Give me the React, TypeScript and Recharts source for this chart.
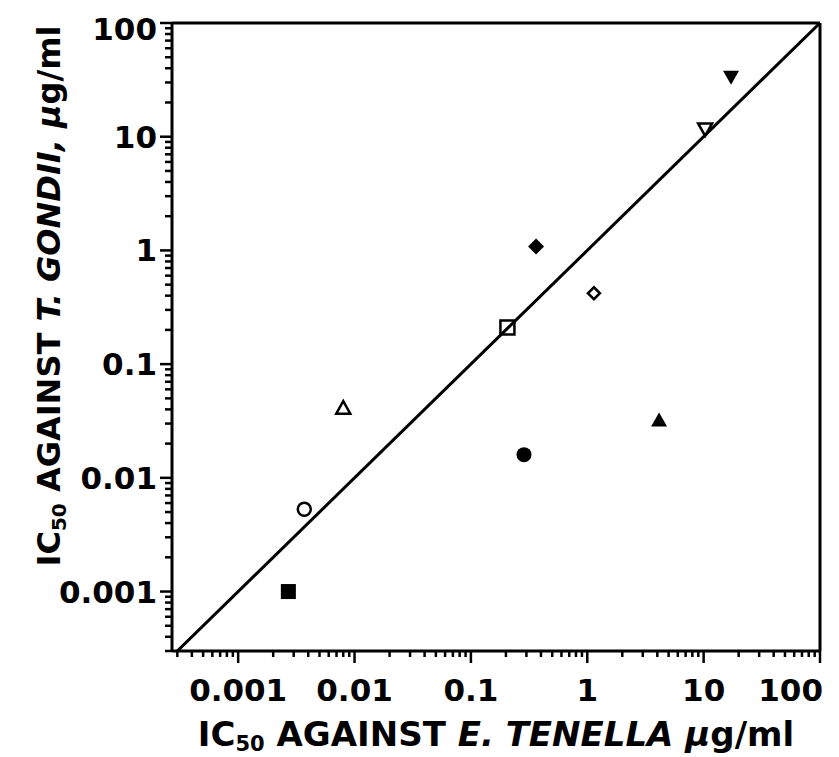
import React from 'react';
import { ScatterChart, Scatter, XAxis, YAxis, ReferenceLine, Label } from 'recharts';

const FONT = '"DejaVu Sans", "Liberation Sans", sans-serif';

// Axis decades and labels
const decadeTicks = [0.001, 0.01, 0.1, 1, 10, 100];
const decadeLabels = ['0.001', '0.01', '0.1', '1', '10', '100'];
const minorDecades = [0.0001, 0.001, 0.01, 0.1, 1, 10];
const minorMultipliers = [2, 3, 4, 5, 6, 7, 8, 9];

const xDomain = [0.00027, 100];
const yDomain = [0.0003, 100];

// Compounds (marker symbol), IC50 vs E. tenella (x) and T. gondii (y), µg/ml
const compoundMarkers = [
  'filledDown',
  'openDown',
  'filledDiamond',
  'openDiamond',
  'openSquare',
  'openUp',
  'filledUp',
  'filledCircle',
  'openCircle',
  'filledSquare',
];
const eTenellaIC50 = [17.2, 10.3, 0.363, 1.14, 0.206, 0.008, 4.14, 0.286, 0.0037, 0.0027];
const tGondiiIC50 = [33.7, 11.7, 1.08, 0.42, 0.21, 0.041, 0.032, 0.016, 0.0053, 0.001];

// Line of identity (y = x)
const identityX = [0.00027, 100];
const identityY = [0.00027, 100];

const points = compoundMarkers.map((kind, i) => ({
  x: eTenellaIC50[i],
  y: tGondiiIC50[i],
  kind,
}));

const minorTicks: number[] = [];
minorDecades.forEach((d) =>
  minorMultipliers.forEach((m) => {
    const v = +(d * m).toPrecision(6);
    if (v >= xDomain[0] && v <= xDomain[1]) minorTicks.push(v);
  })
);
const xTicks = [...minorTicks, ...decadeTicks].sort((a, b) => a - b);
const yTicks = [...minorTicks.filter((v) => v >= yDomain[0]), ...decadeTicks].sort((a, b) => a - b);

const labelIndex = (v: number) =>
  decadeTicks.findIndex((d) => Math.abs(Math.log10(d) - Math.log10(v)) < 1e-6);

const XTick = (props: any) => {
  const { x, y, payload } = props;
  const idx = labelIndex(payload.value);
  const label = idx >= 0 ? decadeLabels[idx] : null;
  const last = idx === decadeLabels.length - 1;
  const len = label ? 12 : 6;
  return (
    <g>
      <line x1={x} y1={y} x2={x} y2={y + len} stroke="#000" strokeWidth={2.5} />
      {label && (
        <text
          x={last ? x + 3 : x}
          y={y + 50}
          textAnchor={last ? 'end' : 'middle'}
          fontFamily={FONT}
          fontWeight="bold"
          fontSize={31}
          fill="#000"
        >
          {label}
        </text>
      )}
    </g>
  );
};

const YTick = (props: any) => {
  const { x, y, payload } = props;
  const idx = labelIndex(payload.value);
  const label = idx >= 0 ? decadeLabels[idx] : null;
  const last = idx === decadeLabels.length - 1;
  const len = label ? 12 : 7;
  return (
    <g>
      <line x1={x} y1={y} x2={x - len} y2={y} stroke="#000" strokeWidth={2.5} />
      {label && (
        <text
          x={x - 15}
          y={last ? y + 17 : y + 11}
          textAnchor="end"
          fontFamily={FONT}
          fontWeight="bold"
          fontSize={31}
          fill="#000"
        >
          {label}
        </text>
      )}
    </g>
  );
};

const Marker = (props: any) => {
  const { cx, cy, payload } = props;
  if (cx == null || cy == null) return null;
  const kind = payload.kind;
  const k = '#000';
  switch (kind) {
    case 'filledDown':
      return <polygon points={`${cx - 8},${cy - 6} ${cx + 8},${cy - 6} ${cx},${cy + 8}`} fill={k} />;
    case 'openDown':
      return (
        <polygon
          points={`${cx - 7},${cy - 5.5} ${cx + 7},${cy - 5.5} ${cx},${cy + 7}`}
          fill="none"
          stroke={k}
          strokeWidth={2.5}
        />
      );
    case 'filledDiamond':
      return <polygon points={`${cx},${cy - 8} ${cx + 8},${cy} ${cx},${cy + 8} ${cx - 8},${cy}`} fill={k} />;
    case 'openDiamond':
      return (
        <polygon
          points={`${cx},${cy - 6} ${cx + 6},${cy} ${cx},${cy + 6} ${cx - 6},${cy}`}
          fill="#fff"
          stroke={k}
          strokeWidth={2.5}
        />
      );
    case 'openSquare':
      return <rect x={cx - 7} y={cy - 7} width={14} height={14} fill="none" stroke={k} strokeWidth={2.5} />;
    case 'openUp':
      return (
        <polygon
          points={`${cx},${cy - 7} ${cx + 7},${cy + 5.5} ${cx - 7},${cy + 5.5}`}
          fill="#fff"
          stroke={k}
          strokeWidth={2.5}
        />
      );
    case 'filledUp':
      return <polygon points={`${cx},${cy - 8} ${cx + 8},${cy + 6} ${cx - 8},${cy + 6}`} fill={k} />;
    case 'filledCircle':
      return <circle cx={cx} cy={cy} r={7.5} fill={k} />;
    case 'openCircle':
      return <circle cx={cx} cy={cy} r={6.5} fill="#fff" stroke={k} strokeWidth={2.5} />;
    case 'filledSquare':
      return <rect x={cx - 7.5} y={cy - 7.5} width={15} height={15} fill={k} />;
    default:
      return null;
  }
};

const XTitle = () => (
  <text x={488} y={738} textAnchor="middle" fontFamily={FONT} fontWeight="bold" fontSize={34} fill="#000">
    <tspan>IC</tspan>
    <tspan fontSize={21} dy={5}>50</tspan>
    <tspan dy={-5}> AGAINST </tspan>
    <tspan fontStyle="italic">E. TENELLA</tspan>
    <tspan> </tspan>
    <tspan fontStyle="italic">μ</tspan>
    <tspan>g/ml</tspan>
  </text>
);

const YTitle = () => (
  <text
    x={52}
    y={288}
    transform="rotate(-90 52 288)"
    textAnchor="middle"
    fontFamily={FONT}
    fontWeight="bold"
    fontSize={32}
    fill="#000"
  >
    <tspan>IC</tspan>
    <tspan fontSize={20} dy={6}>50</tspan>
    <tspan dy={-6}> AGAINST </tspan>
    <tspan fontStyle="italic">T. GONDII,</tspan>
    <tspan> </tspan>
    <tspan fontStyle="italic">μ</tspan>
    <tspan>g/ml</tspan>
  </text>
);

export default function App() {
  return (
    <div style={{ width: 823, height: 749, background: '#fff' }}>
      <ScatterChart width={823} height={749} margin={{ top: 15, right: 11, bottom: 46, left: 64 }}>
        <XAxis
          type="number"
          dataKey="x"
          scale="log"
          domain={xDomain}
          allowDataOverflow
          ticks={xTicks}
          interval={0}
          tick={<XTick />}
          tickLine={false}
          tickSize={0}
          tickMargin={0}
          axisLine={{ stroke: '#000', strokeWidth: 3 }}
          height={60}
        >
          <Label content={() => <XTitle />} />
        </XAxis>
        <YAxis
          type="number"
          dataKey="y"
          scale="log"
          domain={yDomain}
          allowDataOverflow
          ticks={yTicks}
          interval={0}
          tick={<YTick />}
          tickLine={false}
          tickSize={0}
          tickMargin={0}
          axisLine={{ stroke: '#000', strokeWidth: 3 }}
          width={100}
        >
          <Label content={() => <YTitle />} />
        </YAxis>
        <ReferenceLine y={100} stroke="#000" strokeWidth={3} ifOverflow="visible" />
        <ReferenceLine x={100} stroke="#000" strokeWidth={3} ifOverflow="visible" />
        <ReferenceLine
          segment={[
            { x: identityX[0], y: identityY[0] },
            { x: identityX[1], y: identityY[1] },
          ]}
          stroke="#000"
          strokeWidth={3}
          ifOverflow="hidden"
        />
        <Scatter data={points} shape={<Marker />} isAnimationActive={false} />
      </ScatterChart>
    </div>
  );
}
